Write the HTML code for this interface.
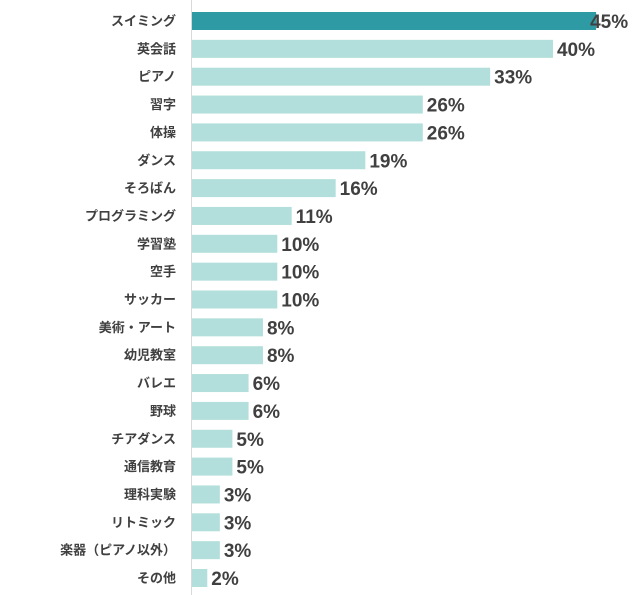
<!DOCTYPE html>
<html><head><meta charset="utf-8"><style>
body{margin:0;background:#fff;}
svg{display:block;font-family:"Liberation Sans","Noto Sans CJK JP",sans-serif;}
</style></head><body>
<svg id="chart" width="640" height="595" viewBox="0 0 640 595"></svg>
<script>
const categories=["スイミング","英会話","ピアノ","習字","体操","ダンス","そろばん","プログラミング","学習塾","空手","サッカー","美術・アート","幼児教室","バレエ","野球","チアダンス","通信教育","理科実験","リトミック","楽器（ピアノ以外）","その他"];
const values=[45,40.2,33.2,25.7,25.7,19.3,16,11.1,9.5,9.5,9.5,7.9,7.9,6.3,6.3,4.5,4.5,3.1,3.1,3.1,1.7];
const valueLabels=["45%","40%","33%","26%","26%","19%","16%","11%","10%","10%","10%","8%","8%","6%","6%","5%","5%","3%","3%","3%","2%"];
const NS="http://www.w3.org/2000/svg";
const svg=document.getElementById('chart');
const x0=192,pxPer=8.98,top0=12,step=27.85,bh=18;
const xScale=v=>x0+v*pxPer;
const yScale=i=>top0+i*step;
function mk(t,a){const e=document.createElementNS(NS,t);for(const k in a)e.setAttribute(k,a[k]);svg.appendChild(e);return e;}
const ax=mk('line',{x1:x0-0.5,x2:x0-0.5,y1:0,y2:595,stroke:'#d9d9d9','stroke-width':1});


categories.forEach((c,i)=>{
  const y=yScale(i);
  const r=mk('rect',{x:x0,y:y,width:xScale(values[i])-x0,height:bh,fill:i===0?'#2e9aa3':'#b2dfdb'});
  
  
  const t=mk('text',{x:176,y:y+bh/2+4.5,'text-anchor':'end','font-size':13,'font-weight':'bold',fill:'#404040'});
  t.textContent=c;
  
  
  const v=mk('text',{x:xScale(values[i])+(i===0?-6:4),y:y+bh/2+7,'font-size':19,'font-weight':'bold',fill:'#404040'});
  v.textContent=valueLabels[i];
  
  
});
</script>
</body></html>
